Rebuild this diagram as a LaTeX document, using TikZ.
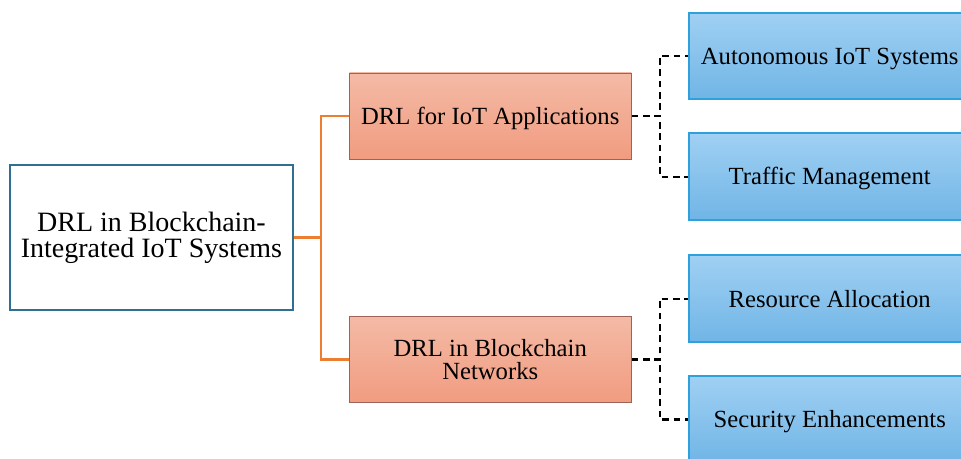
\documentclass[tikz,border=0pt]{standalone}
\usepackage{fontspec}
\setmainfont{Liberation Serif}
\usepackage{tikz}
\usetikzlibrary{positioning}
\definecolor{rootline}{HTML}{2F6F8F}
\definecolor{branch}{HTML}{ED7D31}
\definecolor{salmontop}{HTML}{F4BAA6}
\definecolor{salmonbot}{HTML}{F19C80}
\definecolor{salmonline}{HTML}{9E6357}
\definecolor{skytop}{HTML}{A0D0F3}
\definecolor{skybot}{HTML}{70B5E6}
\definecolor{skyline}{HTML}{2EA1DC}
\tikzstyle{rootbox} = [rectangle, minimum width=212pt, minimum height=109pt, align=center, draw=rootline, line width=1.5pt, fill=white, font=\fontsize{21pt}{19.5pt}\selectfont]
\tikzstyle{midbox} = [rectangle, minimum width=211.5pt, minimum height=64.5pt, align=center, draw=salmonline, line width=0.7pt, top color=salmontop, bottom color=salmonbot]
\tikzstyle{leafbox} = [rectangle, minimum width=211.5pt, minimum height=65pt, align=center, text height=16.5pt, text depth=4pt, draw=skyline, line width=1.5pt, top color=skytop, bottom color=skybot]
\tikzstyle{oneline} = [text height=16.5pt, text depth=4pt]
\tikzstyle{tree} = [draw=branch, line width=1.6pt]
\tikzstyle{sub} = [draw=black, line width=1.7pt, dash pattern=on 5pt off 3.5pt]

\begin{document}
\begin{tikzpicture}[font=\fontsize{18.5pt}{17pt}\selectfont]
			\useasboundingbox (0,0) rectangle (720.75pt,-344.25pt);
			\clip (0,0) rectangle (720.75pt,-344.25pt);
			\node (root) [rootbox] at (113.6pt,-178.1pt) {DRL in Blockchain-\\Integrated IoT Systems};
			\node (app) [midbox, oneline, right=41.25pt of root, yshift=91.1pt] {DRL for IoT Applications};
			\node (net) [midbox, right=41.25pt of root, yshift=-91.5pt] {DRL in Blockchain\\Networks};
			\node (auto) [leafbox, right=42pt of app, yshift=45pt] {Autonomous IoT Systems};
			\node (traffic) [leafbox, right=42pt of app, yshift=-45.5pt] {Traffic Management};
			\node (alloc) [leafbox, right=42pt of net, yshift=45.5pt] {Resource Allocation};
			\node (secure) [leafbox, right=42pt of net, yshift=-45pt] {Security Enhancements};

			\draw [tree] (root.east) -- ++(20.25pt,0) |- (app.west);
			\draw [tree] (root.east) -- ++(20.25pt,0) |- (net.west);
			\draw [sub] (app.east) -- ++(21pt,0) |- (auto.west);
			\draw [sub] (app.east) -- ++(21pt,0) |- (traffic.west);
			\draw [sub] (net.east) -- ++(21pt,0) |- (alloc.west);
			\draw [sub] (net.east) -- ++(21pt,0) |- (secure.west);
		\end{tikzpicture}
\end{document}
